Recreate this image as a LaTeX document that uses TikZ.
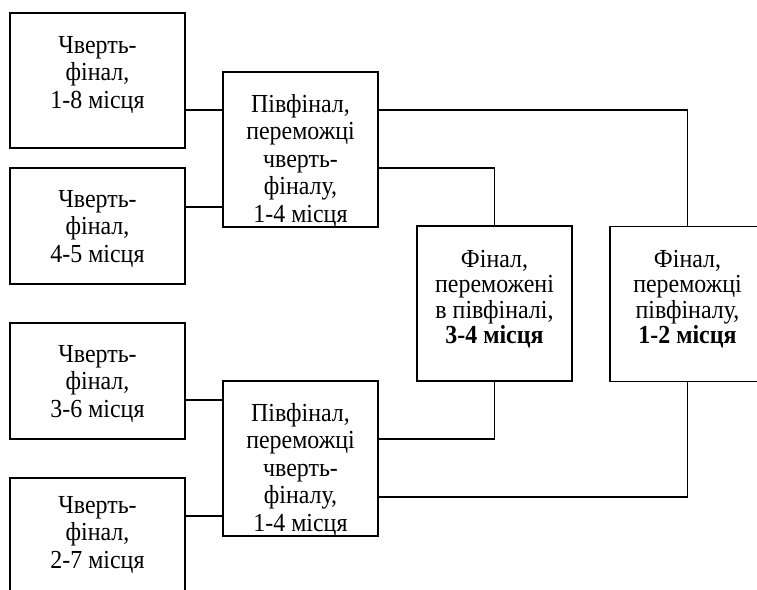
\documentclass[tikz,border=0pt]{standalone}
\usepackage{fontspec}
\setmainfont{Liberation Serif}[FakeStretch=0.92]
\begin{document}
\begin{tikzpicture}[x=1pt,y=-1pt,
  box/.style={draw, line width=1.4pt, inner sep=0pt, minimum width=155pt, minimum height=155pt},
  qbox/.style={box, minimum width=175pt, minimum height=116pt},
  txt/.style={anchor=north, align=center, inner sep=0pt, font=\fontsize{26}{27.5}\selectfont},
  ftxt/.style={txt, font=\fontsize{26}{25.5}\selectfont},
  link/.style={draw, line width=1.1pt}]
\useasboundingbox (0,0) rectangle (757,589);
\begin{scope}
\clip (0,0) rectangle (757,589);
% quarter-final boxes
\node[qbox, minimum height=135pt] (q1) at (97.5,80.5) {};
\node[qbox] (q2) at (97.5,226) {};
\node[qbox] (q3) at (97.5,381) {};
\node[qbox] (q4) at (97.5,536) {};
% semi-final boxes
\node[box] (s1) at (300.5,149.5) {};
\node[box] (s2) at (300.5,458.5) {};
% final boxes
\node[box] (f34) at (494.5,303.5) {};
\node[box] (f12) at (687.5,304) {};
% texts
\node[txt] (q1t) at (97.5,33.75) {\strut Чверть-\\фінал,\\1-8 місця};
\node[txt] (q2t) at (97.5,187.75) {\strut Чверть-\\фінал,\\4-5 місця};
\node[txt] (q3t) at (97.5,342.75) {\strut Чверть-\\фінал,\\3-6 місця};
\node[txt] (q4t) at (97.5,493.75) {\strut Чверть-\\фінал,\\2-7 місця};
\node[txt] (s1t) at (300.5,92.75) {\strut Півфінал,\\переможці\\чверть-\\фіналу,\\1-4 місця};
\node[txt] (s2t) at (300.5,401.75) {\strut Півфінал,\\переможці\\чверть-\\фіналу,\\1-4 місця};
\node[ftxt] (f34t) at (494.5,249.15) {\strut Фінал,\\переможені\\в півфіналі,\\\textbf{3-4 місця}};
\node[ftxt] (f12t) at (687.5,249.15) {\strut Фінал,\\переможці\\півфіналу,\\\textbf{1-2 місця}};
% connectors
\path[link] (q1.east |- 0,110) -- (s1.west |- 0,110);
\path[link] (q2.east |- 0,207) -- (s1.west |- 0,207);
\path[link] (q3.east |- 0,400) -- (s2.west |- 0,400);
\path[link] (q4.east |- 0,516) -- (s2.west |- 0,516);
\path[link] (s1.east |- 0,110) -| (f12.north);
\path[link] (s1.east |- 0,168) -| (f34.north);
\path[link] (s2.east |- 0,439) -| (f34.south);
\path[link] (s2.east |- 0,497) -| (f12.south);
\end{scope}
\end{tikzpicture}
\end{document}
